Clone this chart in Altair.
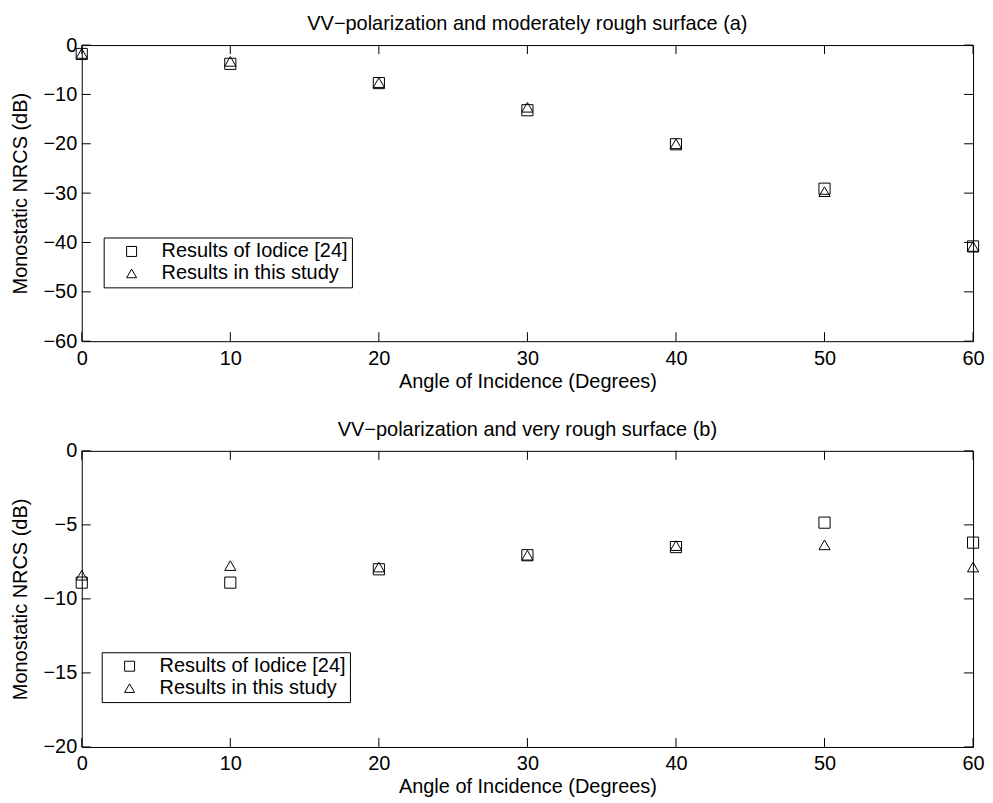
import altair as alt
import pandas as pd

# ---- data ----
angles = [0, 10, 20, 30, 40, 50, 60]
series_names = ["Results of Iodice [24]", "Results in this study"]

iodice_a = [-1.8, -3.8, -7.7, -13.2, -20.1, -29.1, -40.8]
study_a = [-1.7, -3.3, -7.6, -12.6, -20.0, -29.7, -40.8]

iodice_b = [-8.9, -8.9, -8.0, -7.05, -6.5, -4.85, -6.2]
study_b = [-8.4, -7.75, -7.85, -7.05, -6.4, -6.35, -7.85]

x_ticks = [0, 10, 20, 30, 40, 50, 60]
y_ticks_a = [0, -10, -20, -30, -40, -50, -60]
y_ticks_b = [0, -5, -10, -15, -20]

title_a = "VV\u2212polarization and moderately rough surface (a)"
title_b = "VV\u2212polarization and very rough surface (b)"
x_title = "Angle of Incidence (Degrees)"
y_title = "Monostatic NRCS (dB)"

W, H = 894, 297
TICK = 9
FONT = "Liberation Sans"


def panel(iod, stu, yt, title, lx, ly):
    df = pd.DataFrame({
        "angle": angles + angles,
        "nrcs": iod + stu,
        "series": [series_names[0]] * len(angles) + [series_names[1]] * len(angles),
    })
    xs = alt.Scale(domain=[min(x_ticks), max(x_ticks)], nice=False, zero=False)
    ys = alt.Scale(domain=[min(yt), max(yt)], nice=False, zero=False)
    xax = alt.Axis(values=x_ticks, title=x_title, labelPadding=7, titlePadding=3,
                   labelFlush=False, labelOverlap=False)
    yax = alt.Axis(values=yt, title=y_title, labelPadding=5, titlePadding=12,
                   labelFlush=False, labelOverlap=False)

    points = alt.Chart(df).mark_point(
        filled=False, color="black", strokeWidth=1, size=125, opacity=1
    ).encode(
        x=alt.X("angle:Q", scale=xs, axis=xax),
        y=alt.Y("nrcs:Q", scale=ys, axis=yax),
        shape=alt.Shape(
            "series:N",
            scale=alt.Scale(domain=series_names, range=["square", "triangle-up"]),
            sort=series_names,
            legend=alt.Legend(
                title=None, orient="none", legendX=lx, legendY=ly,
                strokeColor="black", fillColor="white", padding=4,
                labelFontSize=20, labelFont=FONT, labelColor="black", labelLimit=0,
                symbolSize=100, symbolStrokeColor="black", symbolFillColor="transparent",
                symbolStrokeWidth=1, symbolOffset=14, labelOffset=20, rowPadding=2,
                cornerRadius=0,
            ),
        ),
    )

    xt = pd.DataFrame({"angle": x_ticks})
    ytd = pd.DataFrame({"nrcs": yt})
    xb = alt.Chart(xt).mark_rule(color="black", strokeWidth=1).encode(
        x=alt.X("angle:Q", scale=xs, axis=xax), y=alt.value(H), y2=alt.value(H - TICK))
    xtop = alt.Chart(xt).mark_rule(color="black", strokeWidth=1).encode(
        x=alt.X("angle:Q", scale=xs, axis=xax), y=alt.value(0), y2=alt.value(TICK))
    yl = alt.Chart(ytd).mark_rule(color="black", strokeWidth=1).encode(
        y=alt.Y("nrcs:Q", scale=ys, axis=yax), x=alt.value(0), x2=alt.value(TICK))
    yr = alt.Chart(ytd).mark_rule(color="black", strokeWidth=1).encode(
        y=alt.Y("nrcs:Q", scale=ys, axis=yax), x=alt.value(W), x2=alt.value(W - TICK))

    return alt.layer(xb, xtop, yl, yr, points).properties(
        width=W, height=H,
        title=alt.TitleParams(title, fontSize=20, font=FONT, fontWeight="normal",
                              color="black", anchor="middle", offset=1),
    )


top = panel(iodice_a, study_a, y_ticks_a, title_a, 22, 193)
bottom = panel(iodice_b, study_b, y_ticks_b, title_b, 20, 202)

chart = alt.vconcat(top, bottom, spacing=27).resolve_scale(
    x="independent", y="independent", shape="independent"
).resolve_legend(shape="independent").properties(
    padding={"left": 10, "top": 12, "right": 8, "bottom": 5},
    background="white",
).configure_view(
    stroke="black", strokeWidth=1
).configure_axis(
    labelFont=FONT, titleFont=FONT, labelFontSize=20, titleFontSize=20,
    titleFontWeight="normal", labelColor="black", titleColor="black",
    domain=False, ticks=False, grid=False,
)

chart.save("out.html", embed_options={"renderer": "svg", "actions": False})
